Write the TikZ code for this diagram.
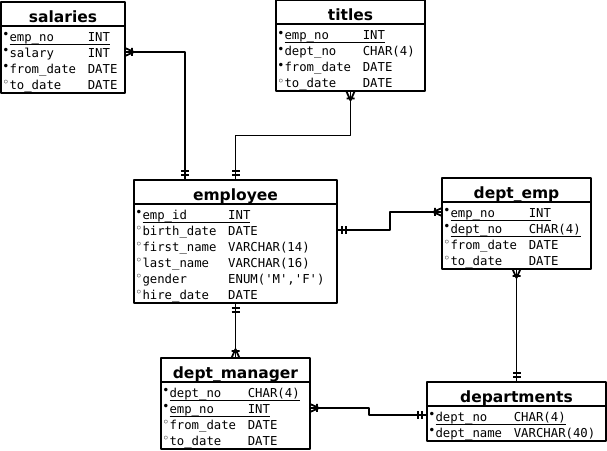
\documentclass[tikz,border=0pt]{standalone}
\usepackage{fontspec}
\usetikzlibrary{arrows.meta}
\newfontfamily\headfnt{DejaVu Sans}
\newfontfamily\monofnt{DejaVu Sans Mono}
\newfontfamily\symfnt{DejaVu Sans}

\newlength\namewd
\newcommand\cols[1]{\setlength\namewd{\dimexpr 0.602em*#1+11.7bp\relax}}
\newcommand\rowstrut{\vrule height 13.8bp depth 2.2bp width 0pt}
\newcommand\mkfull{\makebox[6.5bp][l]{\hspace{-0.6bp}\raisebox{2.7bp}{\fontsize{12bp}{12bp}\symfnt •}}}
\newcommand\mkopen{\makebox[6.5bp][l]{\hspace{-0.6bp}\raisebox{2.7bp}{\fontsize{12bp}{12bp}\symfnt ◦}}}
% field row, key row (underlined)
\newcommand\fld[3]{\rowstrut\smash{#1\makebox[\namewd][l]{#2}#3}}
\newcommand\kfld[2]{\rowstrut\smash{\setbox0\hbox{#2}\mkfull\rlap{\rule[-3.2bp]{\dimexpr\namewd+\wd0\relax}{0.9bp}}\makebox[\namewd][l]{#1}\box0}}

\pgfdeclarearrow{
  name = crow,
  setup code = {
    \pgfarrowssettipend{0pt}
    \pgfarrowssetlineend{0pt}
    \pgfarrowssetbackend{-9.5bp}
    \pgfarrowshullpoint{0pt}{4.5bp}
    \pgfarrowshullpoint{0pt}{-4.5bp}
    \pgfarrowshullpoint{-9.5bp}{0pt}
  },
  drawing code = {
    \pgfpathmoveto{\pgfpoint{0pt}{4bp}}
    \pgfpathlineto{\pgfpoint{-9bp}{0pt}}
    \pgfpathlineto{\pgfpoint{0pt}{-4bp}}
    \pgfpathmoveto{\pgfpoint{-7bp}{4bp}}
    \pgfpathlineto{\pgfpoint{-7bp}{-4bp}}
    \pgfusepathqstroke
  }
}
\pgfdeclarearrow{
  name = bars,
  setup code = {
    \pgfarrowssettipend{0pt}
    \pgfarrowssetlineend{0pt}
    \pgfarrowssetbackend{-9bp}
    \pgfarrowshullpoint{0pt}{4.5bp}
    \pgfarrowshullpoint{-9bp}{-4.5bp}
  },
  drawing code = {
    \pgfpathmoveto{\pgfpoint{-5bp}{4bp}}
    \pgfpathlineto{\pgfpoint{-5bp}{-4bp}}
    \pgfpathmoveto{\pgfpoint{-9bp}{4bp}}
    \pgfpathlineto{\pgfpoint{-9bp}{-4bp}}
    \pgfusepathqstroke
  }
}

\begin{document}
\begin{tikzpicture}[line join=bevel,
  tabhead/.style={draw,line width=2bp,outer sep=0pt,inner sep=0pt,minimum height=24bp,text height=17.5bp,text depth=0.9bp,font=\headfnt\bfseries\fontsize{15.5bp}{18bp}\selectfont},
  tabbody/.style={draw,line width=2bp,outer sep=0pt,anchor=north,inner xsep=2bp,inner ysep=1.5bp,align=left,font=\monofnt\fontsize{12.3bp}{16bp}\selectfont},
  rel/.style={line width=1.8bp}]
\useasboundingbox (0bp,0bp) rectangle (607bp,451bp);
%%
\node (salaries_h) at (63bp,437bp) [tabhead,minimum width=124bp] {salaries};
  \node (salaries) at (salaries_h.south) [tabbody,text width=120bp] {\cols{9}%
    \kfld{emp\_no}{INT}\\
    \fld\mkfull{salary}{INT}\\
    \fld\mkfull{from\_date}{DATE}\\
    \fld\mkopen{to\_date}{DATE}};
\node (titles_h) at (350.5bp,438.5bp) [tabhead,minimum width=149bp] {titles};
  \node (titles) at (titles_h.south) [tabbody,text width=145bp] {\cols{9}%
    \kfld{emp\_no}{INT}\\
    \fld\mkfull{dept\_no}{CHAR(4)}\\
    \fld\mkfull{from\_date}{DATE}\\
    \fld\mkopen{to\_date}{DATE}};
\node (employee_h) at (235.5bp,259bp) [tabhead,minimum width=203bp] {employee};
  \node (employee) at (employee_h.south) [tabbody,text width=199bp] {\cols{10}%
    \kfld{emp\_id}{INT}\\
    \fld\mkopen{birth\_date}{DATE}\\
    \fld\mkopen{first\_name}{VARCHAR(14)}\\
    \fld\mkopen{last\_name}{VARCHAR(16)}\\
    \fld\mkopen{gender}{ENUM(\textquotesingle M\textquotesingle,\textquotesingle F\textquotesingle)}\\
    \fld\mkopen{hire\_date}{DATE}};
\node (dept_emp_h) at (516.5bp,261bp) [tabhead,minimum width=149bp] {dept\_emp};
  \node (dept_emp) at (dept_emp_h.south) [tabbody,text width=145bp] {\cols{9}%
    \kfld{emp\_no}{INT}\\
    \kfld{dept\_no}{CHAR(4)}\\
    \fld\mkopen{from\_date}{DATE}\\
    \fld\mkopen{to\_date}{DATE}};
\node (dept_manager_h) at (235.5bp,81bp) [tabhead,minimum width=149bp] {dept\_manager};
  \node (dept_manager) at (dept_manager_h.south) [tabbody,text width=145bp] {\cols{9}%
    \kfld{dept\_no}{CHAR(4)}\\
    \kfld{emp\_no}{INT}\\
    \fld\mkopen{from\_date}{DATE}\\
    \fld\mkopen{to\_date}{DATE}};
\node (departments_h) at (516.5bp,57bp) [tabhead,minimum width=179bp] {departments};
  \node (departments) at (departments_h.south) [tabbody,text width=175bp] {\cols{9}%
    \kfld{dept\_no}{CHAR(4)}\\
    \fld\mkfull{dept\_name}{VARCHAR(40)}};
  \draw [rel,crow-bars] ([yshift=7.5bp]salaries.east) -| ([xshift=-50.5bp]employee_h.north);
  \draw [rel,crow-bars] (titles.south) -- ++(0,-44bp) -| (employee_h.north);
  \draw [rel,bars-crow] ([yshift=23.5bp]employee.east) -- ++(53bp,0) |- ([yshift=23.5bp]dept_emp.west);
  \draw [rel,crow-bars] (dept_emp.south) -- (departments_h.north);
  \draw [rel,bars-crow] (employee.south) -- (dept_manager_h.north);
  \draw [rel,crow-bars] ([yshift=7.5bp]dept_manager.east) -- ++(59bp,0) |- ([yshift=8.5bp]departments.west);
%
\end{tikzpicture}
\end{document}
